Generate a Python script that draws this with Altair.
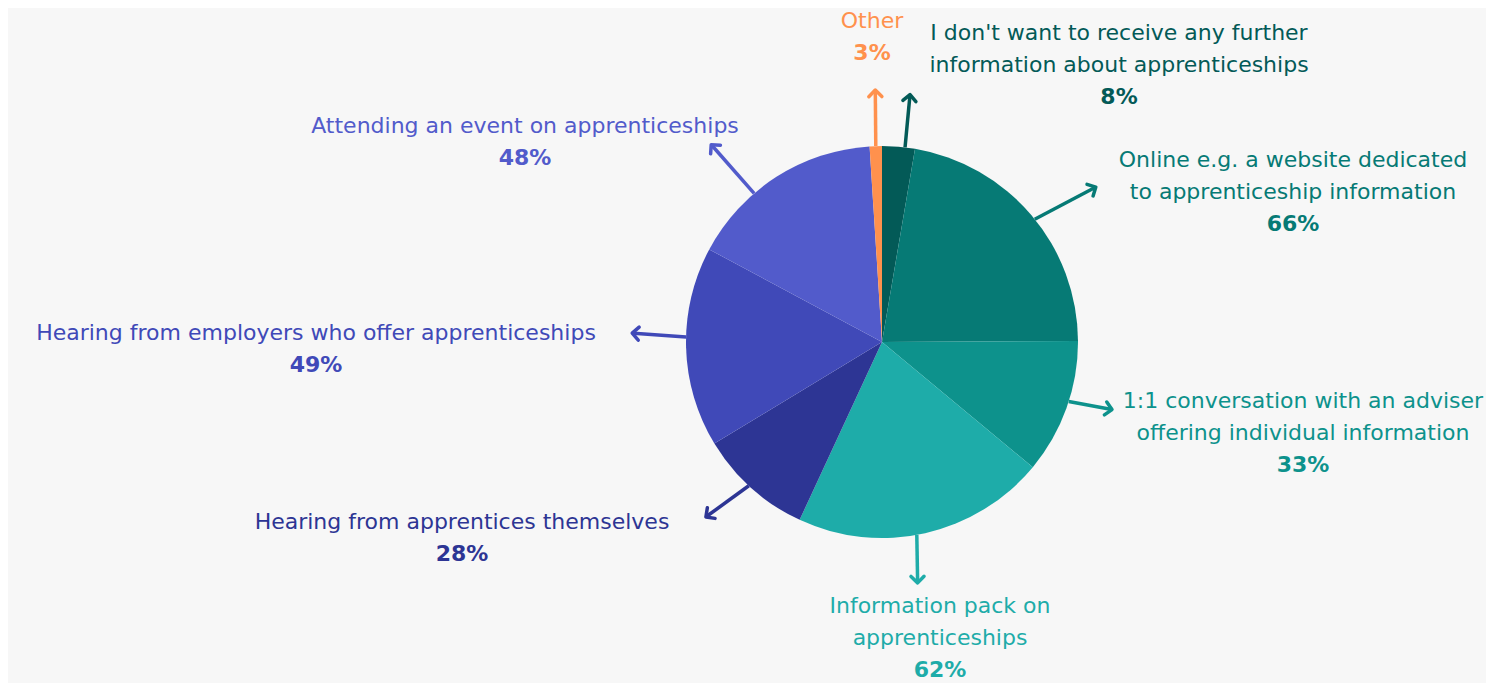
import math
import altair as alt
import pandas as pd

# ---- data ----
categories = [
    "I don't want to receive any further information about apprenticeships",
    "Online e.g. a website dedicated to apprenticeship information",
    "1:1 conversation with an adviser offering individual information",
    "Information pack on apprenticeships",
    "Hearing from apprentices themselves",
    "Hearing from employers who offer apprenticeships",
    "Attending an event on apprenticeships",
    "Other",
]
label_lines = [
    ["I don't want to receive any further", "information about apprenticeships"],
    ["Online e.g. a website dedicated", "to apprenticeship information"],
    ["1:1 conversation with an adviser", "offering individual information"],
    ["Information pack on", "apprenticeships"],
    ["Hearing from apprentices themselves"],
    ["Hearing from employers who offer apprenticeships"],
    ["Attending an event on apprenticeships"],
    ["Other"],
]
values = [8, 66, 33, 62, 28, 49, 48, 3]

# ---- style ----
colors = ["#035a57", "#067a75", "#0d928c", "#1eaca9", "#2d3594", "#4049b8", "#525bcb", "#ff914d"]
W, H = 1478, 675
CX, CY, R = 874, 334, 196
FONT = "DejaVu Sans"
FS = 22
LH = 32
# arrow: start offset from slice mid-angle, direction (deg, clockwise from up), length
arrow_offset = [1.9, 1.5, -2.0, 2.5, 1.0, 3.0, -8.0, 0.0]
arrow_dir = [5.4, 62.3, 100.5, 179.0, 234.0, 274.0, 318.7, 359.5]
arrow_len = [53, 69, 44, 48, 53, 54, 65, 56]
# label anchor: centre x, centre y of first line (chart coords)
label_x = [1111, 1285, 1295, 932, 454, 308, 517, 864]
label_y = [25, 152, 393, 598, 514, 325, 118, 13]

total = sum(values)
pie_rows, rule_rows, head_rows, text_rows = [], [], [], []
cum = 0.0
for i, (cat, v) in enumerate(zip(categories, values)):
    a0 = cum / total * 360
    cum += v
    a1 = cum / total * 360
    mid = (a0 + a1) / 2
    pie_rows.append({"category": cat, "value": v, "idx": i, "color": colors[i]})
    sa = math.radians(mid + arrow_offset[i])
    x0 = CX + R * math.sin(sa)
    y0 = CY - R * math.cos(sa)
    d = math.radians(arrow_dir[i])
    x1 = x0 + arrow_len[i] * math.sin(d)
    y1 = y0 - arrow_len[i] * math.cos(d)
    rule_rows.append({"x0": x0, "y0": y0, "x1": x1 - 1.5 * math.sin(d), "y1": y1 + 1.5 * math.cos(d), "color": colors[i]})
    head_rows.append({"x": x1, "y": y1, "dir": arrow_dir[i] % 360, "color": colors[i]})
    lines = label_lines[i]
    for j, ln in enumerate(lines):
        text_rows.append({"x": label_x[i], "y": label_y[i] + j * LH, "text": ln, "color": colors[i], "bold": 0})
    text_rows.append({"x": label_x[i], "y": label_y[i] + len(lines) * LH, "text": f"{v}%", "color": colors[i], "bold": 1})

pie_df = pd.DataFrame(pie_rows)
rule_df = pd.DataFrame(rule_rows)
head_df = pd.DataFrame(head_rows)
text_df = pd.DataFrame(text_rows)

xs = alt.Scale(domain=[0, W], nice=False, zero=False)
ys = alt.Scale(domain=[0, H], nice=False, zero=False, reverse=True)

pie = alt.Chart(pie_df).mark_arc(radius=R).encode(
    theta=alt.Theta("value:Q", stack=True),
    color=alt.Color("color:N", scale=None),
    order=alt.Order("idx:Q"),
    x=alt.value(CX),
    y=alt.value(CY),
)

rules = alt.Chart(rule_df).mark_rule(strokeWidth=3.5, strokeCap="butt").encode(
    x=alt.X("x0:Q", scale=xs, axis=None),
    x2="x1:Q",
    y=alt.Y("y0:Q", scale=ys, axis=None),
    y2="y1:Q",
    color=alt.Color("color:N", scale=None),
)

heads = alt.Chart(head_df).mark_point(
    shape="M-1,1L0,0L1,1", filled=False, size=170, strokeWidth=3.5, opacity=1,
    strokeCap="round", strokeJoin="round",
).encode(
    x=alt.X("x:Q", scale=xs, axis=None),
    y=alt.Y("y:Q", scale=ys, axis=None),
    angle=alt.Angle("dir:Q", scale=None),
    color=alt.Color("color:N", scale=None),
)

labels = alt.Chart(text_df).transform_filter("datum.bold == 0").mark_text(
    font=FONT, fontSize=FS, align="center", baseline="middle"
).encode(
    x=alt.X("x:Q", scale=xs, axis=None),
    y=alt.Y("y:Q", scale=ys, axis=None),
    text="text:N",
    color=alt.Color("color:N", scale=None),
)

pcts = alt.Chart(text_df).transform_filter("datum.bold == 1").mark_text(
    font=FONT, fontSize=FS, fontWeight="bold", align="center", baseline="middle"
).encode(
    x=alt.X("x:Q", scale=xs, axis=None),
    y=alt.Y("y:Q", scale=ys, axis=None),
    text="text:N",
    color=alt.Color("color:N", scale=None),
)

chart = alt.layer(pie, rules, heads, labels, pcts).properties(
    width=W, height=H, padding=0, background="#f7f7f7",
    autosize=alt.AutoSizeParams(type="none"),
).configure_view(stroke=None)

chart.save("out.html", embed_options={"renderer": "svg", "actions": False})
